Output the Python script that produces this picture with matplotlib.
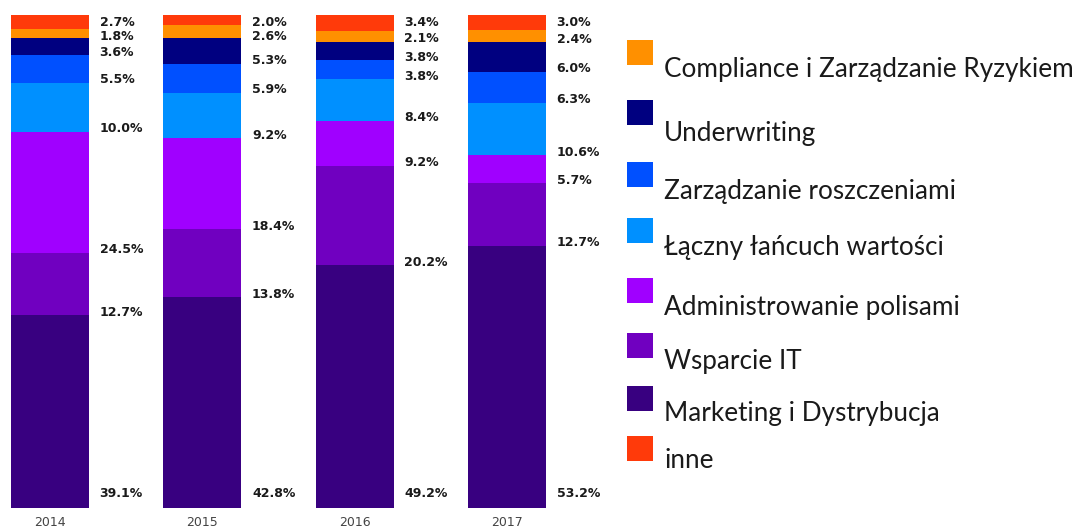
import matplotlib
matplotlib.use("Agg")
import matplotlib.pyplot as plt
from matplotlib.patches import Rectangle
import numpy as np

years = ["2014", "2015", "2016", "2017"]
# stacking order: bottom -> top
categories = ["Marketing i Dystrybucja", "Wsparcie IT", "Administrowanie polisami",
              "Łączny łańcuch wartości", "Zarządzanie roszczeniami", "Underwriting",
              "Compliance i Zarządzanie Ryzykiem", "inne"]
marketing = [39.1, 42.8, 49.2, 53.2]
wsparcie_it = [12.7, 13.8, 20.2, 12.7]
administrowanie = [24.5, 18.4, 9.2, 5.7]
lancuch = [10.0, 9.2, 8.4, 10.6]
roszczenia = [5.5, 5.9, 3.8, 6.3]
underwriting = [3.6, 5.3, 3.8, 6.0]
compliance = [1.8, 2.6, 2.1, 2.4]
inne = [2.7, 2.0, 3.4, 3.0]
series = [marketing, wsparcie_it, administrowanie, lancuch, roszczenia,
          underwriting, compliance, inne]
colors = ["#380080", "#7000c0", "#a000ff", "#0090ff", "#0050ff", "#000080",
          "#ff9000", "#ff3a0a"]

legend_order = ["Compliance i Zarządzanie Ryzykiem", "Underwriting",
                "Zarządzanie roszczeniami", "Łączny łańcuch wartości",
                "Administrowanie polisami", "Wsparcie IT",
                "Marketing i Dystrybucja", "inne"]

W, H = 1079, 530
fig = plt.figure(figsize=(W / 100, H / 100), dpi=100)
ax = fig.add_axes([0, (H - 508) / H, 620 / W, (508 - 15) / H])

x = np.arange(len(years))
width = 0.512
bottom = np.zeros(len(years))
bottoms = []
for vals, c in zip(series, colors):
    ax.bar(x, vals, width, bottom=bottom, color=c, edgecolor="none")
    bottoms.append(bottom.copy())
    bottom = bottom + np.array(vals)

# value labels to the right of each bar, near the bottom of each segment
for j in range(len(years)):
    ys = []
    for k in range(len(series)):
        ys.append(bottoms[k][j] + (3.0 if k == 0 else 0.6))
    ys[-1] = 98.5
    for k in range(len(series) - 2, -1, -1):
        ys[k] = min(ys[k], ys[k + 1] - 2.8)
    for k in range(len(series)):
        ax.text(x[j] + width / 2 + 0.07, ys[k], f"{series[k][j]:.1f}%",
                ha="left", va="center", fontsize=9, fontweight="heavy",
                color="#1a1a1a")

ax.set_xlim(-50 / 152.3, 570 / 152.3)
ax.set_ylim(0, 100)
ax.set_xticks(x)
ax.set_xticklabels(years, fontsize=9, color="#444444")
ax.tick_params(axis="x", length=0, pad=6)
ax.set_yticks([])
for s in ax.spines.values():
    s.set_visible(False)

# legend (handles above-left of the labels, as in the original)
sq_y = [52, 112, 174, 230, 290, 345, 398, 448]
tx_y = [70, 133, 192, 248, 307, 362, 413, 460]
col_of = dict(zip(categories, colors))
for name, sy, ty in zip(legend_order, sq_y, tx_y):
    fig.patches.append(Rectangle(((627) / W, 1 - (sy + 13) / H), 26 / W, 25 / H,
                                 transform=fig.transFigure, facecolor=col_of[name],
                                 edgecolor="none"))
    fig.text(664 / W, 1 - ty / H, name, ha="left", va="center",
             fontsize=18.8, family="Lato", color="#1a1a1a")

fig.savefig("out.png", dpi=100)
